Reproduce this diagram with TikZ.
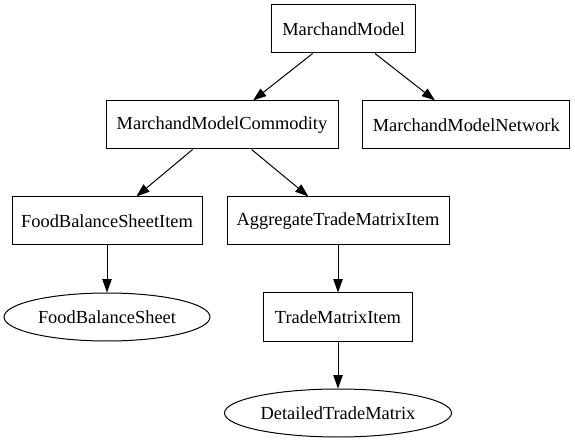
\documentclass[tikz,border=0pt]{standalone}
\usepackage{fontspec}
\setmainfont{Liberation Serif}
\usetikzlibrary{arrows.meta,shapes.geometric}
\begin{document}
\begin{tikzpicture}[x=1pt,y=-1pt,
  every node/.style={font=\fontsize{18.4}{22}\selectfont, inner sep=0pt, line width=1pt, draw=black, minimum height=48pt},
  box/.style={rectangle},
  ell/.style={ellipse},
  edge/.style={line width=1pt, -{Triangle[length=13.3pt,width=9.3pt]}}]
\useasboundingbox (0,0) rectangle (575,443);
\node[box, minimum width=144pt] (mm) at (343.7,29) {MarchandModel};
\node[box, minimum width=232pt] (mmc) at (222,125) {MarchandModelCommodity};
\node[box, minimum width=207pt] (mmn) at (466.3,125) {MarchandModelNetwork};
\node[box, minimum width=190pt] (fbsi) at (107,221) {FoodBalanceSheetItem};
\node[box, minimum width=222pt] (atmi) at (338,221) {AggregateTradeMatrixItem};
\node[ell, minimum width=206pt] (fbs) at (107,317) {FoodBalanceSheet};
\node[box, minimum width=149pt] (tmi) at (338,317) {TradeMatrixItem};
\node[ell, minimum width=227pt] (dtm) at (338,413) {DetailedTradeMatrix};
\draw[edge] (mm) -- (mmc);
\draw[edge] (mm) -- (mmn);
\draw[edge] (mmc) -- (fbsi);
\draw[edge] (mmc) -- (atmi);
\draw[edge] (fbsi) -- (fbs);
\draw[edge] (atmi) -- (tmi);
\draw[edge] (tmi) -- (dtm);
\end{tikzpicture}
\end{document}
